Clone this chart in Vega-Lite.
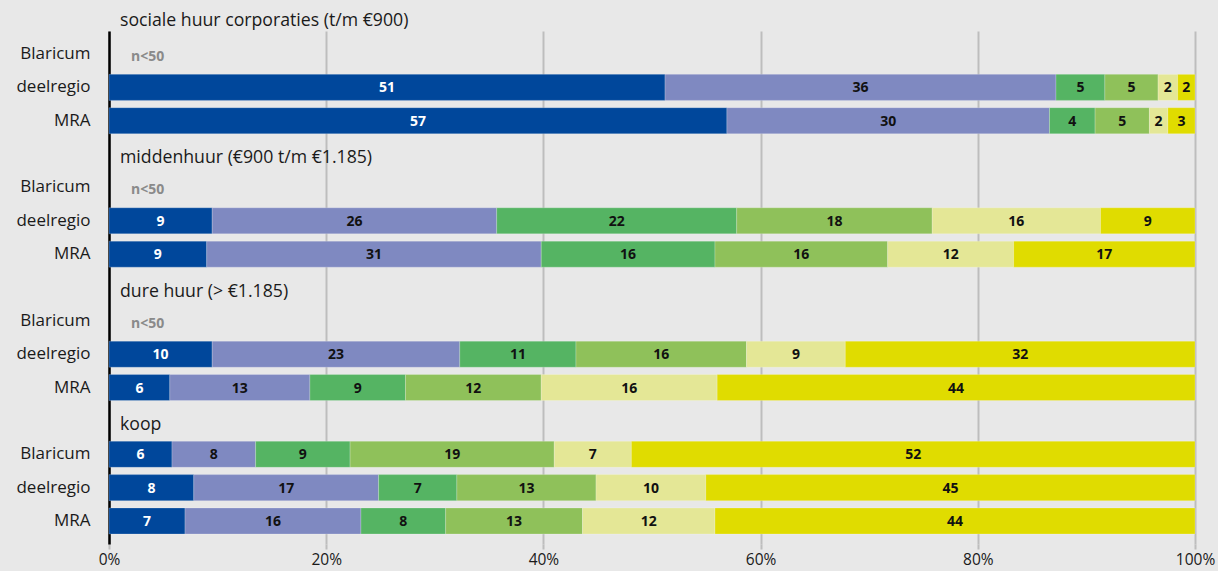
{
  "$schema": "https://vega.github.io/schema/vega-lite/v6.json",
  "width": 1086,
  "height": 513,
  "autosize": {"type": "none"},
  "padding": {"left": 109, "top": 31, "right": 23, "bottom": 27},
  "background": "#e8e8e8",
  "title": {
    "text": "sociale huur corporaties (t/m €900)",
    "anchor": "start",
    "frame": "group",
    "dx": 11,
    "offset": 1,
    "font": "Open Sans",
    "fontSize": 17.7,
    "fontWeight": "normal",
    "color": "#1a1a1a"
  },
  "config": {
    "view": {"stroke": null},
    "font": "Open Sans"
  },
  "datasets": {
    "bars": [
      {"row": "03|deelregio", "cat": "c1", "value": 51.2, "label": "51"},
      {"row": "03|deelregio", "cat": "c2", "value": 36.0, "label": "36"},
      {"row": "03|deelregio", "cat": "c3", "value": 4.5, "label": "5"},
      {"row": "03|deelregio", "cat": "c4", "value": 4.9, "label": "5"},
      {"row": "03|deelregio", "cat": "c5", "value": 1.8, "label": "2"},
      {"row": "03|deelregio", "cat": "c6", "value": 1.6, "label": "2"},
      {"row": "04|MRA", "cat": "c1", "value": 56.9, "label": "57"},
      {"row": "04|MRA", "cat": "c2", "value": 29.7, "label": "30"},
      {"row": "04|MRA", "cat": "c3", "value": 4.2, "label": "4"},
      {"row": "04|MRA", "cat": "c4", "value": 5.0, "label": "5"},
      {"row": "04|MRA", "cat": "c5", "value": 1.7, "label": "2"},
      {"row": "04|MRA", "cat": "c6", "value": 2.5, "label": "3"},
      {"row": "07|deelregio", "cat": "c1", "value": 9.5, "label": "9"},
      {"row": "07|deelregio", "cat": "c2", "value": 26.2, "label": "26"},
      {"row": "07|deelregio", "cat": "c3", "value": 22.1, "label": "22"},
      {"row": "07|deelregio", "cat": "c4", "value": 18.0, "label": "18"},
      {"row": "07|deelregio", "cat": "c5", "value": 15.5, "label": "16"},
      {"row": "07|deelregio", "cat": "c6", "value": 8.7, "label": "9"},
      {"row": "08|MRA", "cat": "c1", "value": 9.0, "label": "9"},
      {"row": "08|MRA", "cat": "c2", "value": 30.8, "label": "31"},
      {"row": "08|MRA", "cat": "c3", "value": 16.0, "label": "16"},
      {"row": "08|MRA", "cat": "c4", "value": 15.9, "label": "16"},
      {"row": "08|MRA", "cat": "c5", "value": 11.6, "label": "12"},
      {"row": "08|MRA", "cat": "c6", "value": 16.7, "label": "17"},
      {"row": "11|deelregio", "cat": "c1", "value": 9.5, "label": "10"},
      {"row": "11|deelregio", "cat": "c2", "value": 22.8, "label": "23"},
      {"row": "11|deelregio", "cat": "c3", "value": 10.7, "label": "11"},
      {"row": "11|deelregio", "cat": "c4", "value": 15.7, "label": "16"},
      {"row": "11|deelregio", "cat": "c5", "value": 9.1, "label": "9"},
      {"row": "11|deelregio", "cat": "c6", "value": 32.2, "label": "32"},
      {"row": "12|MRA", "cat": "c1", "value": 5.6, "label": "6"},
      {"row": "12|MRA", "cat": "c2", "value": 12.9, "label": "13"},
      {"row": "12|MRA", "cat": "c3", "value": 8.8, "label": "9"},
      {"row": "12|MRA", "cat": "c4", "value": 12.5, "label": "12"},
      {"row": "12|MRA", "cat": "c5", "value": 16.2, "label": "16"},
      {"row": "12|MRA", "cat": "c6", "value": 44.0, "label": "44"},
      {"row": "14|Blaricum", "cat": "c1", "value": 5.8, "label": "6"},
      {"row": "14|Blaricum", "cat": "c2", "value": 7.7, "label": "8"},
      {"row": "14|Blaricum", "cat": "c3", "value": 8.7, "label": "9"},
      {"row": "14|Blaricum", "cat": "c4", "value": 18.8, "label": "19"},
      {"row": "14|Blaricum", "cat": "c5", "value": 7.1, "label": "7"},
      {"row": "14|Blaricum", "cat": "c6", "value": 51.9, "label": "52"},
      {"row": "15|deelregio", "cat": "c1", "value": 7.8, "label": "8"},
      {"row": "15|deelregio", "cat": "c2", "value": 17.0, "label": "17"},
      {"row": "15|deelregio", "cat": "c3", "value": 7.2, "label": "7"},
      {"row": "15|deelregio", "cat": "c4", "value": 12.8, "label": "13"},
      {"row": "15|deelregio", "cat": "c5", "value": 10.1, "label": "10"},
      {"row": "15|deelregio", "cat": "c6", "value": 45.0, "label": "45"},
      {"row": "16|MRA", "cat": "c1", "value": 7.0, "label": "7"},
      {"row": "16|MRA", "cat": "c2", "value": 16.2, "label": "16"},
      {"row": "16|MRA", "cat": "c3", "value": 7.8, "label": "8"},
      {"row": "16|MRA", "cat": "c4", "value": 12.6, "label": "13"},
      {"row": "16|MRA", "cat": "c5", "value": 12.2, "label": "12"},
      {"row": "16|MRA", "cat": "c6", "value": 44.2, "label": "44"}
    ],
    "titles": [
      {"row": "05|", "text": "middenhuur (€900 t/m €1.185)"},
      {"row": "09|", "text": "dure huur (> €1.185)"},
      {"row": "13|", "text": "koop"}
    ],
    "notes": [
      {"row": "02|Blaricum", "text": "n<50"},
      {"row": "06|Blaricum", "text": "n<50"},
      {"row": "10|Blaricum", "text": "n<50"}
    ]
  },
  "layer": [
    {
      "data": {"name": "bars"},
      "mark": {"type": "bar", "stroke": "#ffffff", "strokeOpacity": 0.35, "strokeWidth": 0.6},
      "encoding": {
        "y": {
          "field": "row",
          "type": "nominal",
          "scale": {
            "domain": ["02|Blaricum", "03|deelregio", "04|MRA", "05|", "06|Blaricum", "07|deelregio", "08|MRA", "09|", "10|Blaricum", "11|deelregio", "12|MRA", "13|", "14|Blaricum", "15|deelregio", "16|MRA"],
            "paddingInner": 0.22,
            "paddingOuter": 0.3
          },
          "axis": {
            "title": null,
            "labelExpr": "split(datum.value, '|')[1]",
            "labelFont": "Open Sans",
            "labelFontSize": 17,
            "labelColor": "#1a1a1a",
            "labelPadding": 19,
            "ticks": false,
            "domainColor": "#000000",
            "domainWidth": 2.5,
            "grid": false
          }
        },
        "x": {
          "field": "value",
          "type": "quantitative",
          "stack": "normalize",
          "scale": {"domain": [0, 1], "nice": false},
          "axis": {
            "title": null,
            "format": ".0%",
            "values": [0, 0.2, 0.4, 0.6, 0.8, 1],
            "grid": true,
            "gridColor": "#bdbdbd",
            "gridWidth": 2,
            "domain": false,
            "ticks": true,
            "tickColor": "#bdbdbd",
            "tickWidth": 2,
            "tickSize": 5,
            "labelFont": "Open Sans",
            "labelFontSize": 15.5,
            "labelColor": "#1a1a1a",
            "labelPadding": 3,
            "labelFlush": false
          }
        },
        "color": {
          "field": "cat",
          "type": "nominal",
          "legend": null,
          "scale": {
            "domain": ["c1", "c2", "c3", "c4", "c5", "c6"],
            "range": ["#00479b", "#7f89c1", "#55b463", "#8fc15a", "#e4e796", "#e0dc00"]
          }
        },
        "order": {"field": "cat"}
      }
    },
    {
      "data": {"name": "bars"},
      "mark": {"type": "text", "font": "Open Sans", "fontSize": 14, "fontWeight": "bold", "baseline": "middle", "dy": 1},
      "encoding": {
        "y": {"field": "row", "type": "nominal"},
        "x": {"field": "value", "type": "quantitative", "stack": "normalize", "bandPosition": 0.5},
        "detail": {"field": "cat"},
        "order": {"field": "cat"},
        "text": {"field": "label"},
        "color": {
          "condition": {"test": "datum.cat === 'c1'", "value": "#ffffff"},
          "value": "#111111"
        }
      }
    },
    {
      "data": {"name": "titles"},
      "mark": {"type": "text", "align": "left", "baseline": "middle", "dx": 11, "dy": 4, "font": "Open Sans", "fontSize": 17.7, "color": "#1a1a1a"},
      "encoding": {
        "y": {"field": "row", "type": "nominal"},
        "x": {"datum": 0, "type": "quantitative"},
        "text": {"field": "text"}
      }
    },
    {
      "data": {"name": "notes"},
      "mark": {"type": "text", "align": "left", "baseline": "middle", "dx": 22, "dy": 3, "font": "Open Sans", "fontSize": 14, "fontWeight": "bold", "color": "#8a8a8a"},
      "encoding": {
        "y": {"field": "row", "type": "nominal"},
        "x": {"datum": 0, "type": "quantitative"},
        "text": {"field": "text"}
      }
    }
  ]
}
